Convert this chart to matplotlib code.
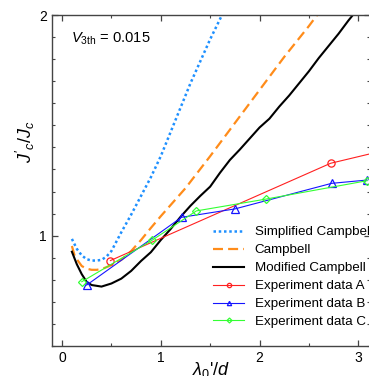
"""Normalised critical current J'c/Jc against lambda0'/d: three model curves
plus three sets of measurements, with the legend set low on the right."""

import matplotlib

matplotlib.use("Agg")
import matplotlib.pyplot as plt  # noqa: E402
from matplotlib.ticker import MultipleLocator, FixedLocator  # noqa: E402

plt.rcParams["font.family"] = ["Liberation Sans", "DejaVu Sans"]
plt.rcParams["mathtext.fontset"] = "custom"
plt.rcParams["mathtext.rm"] = "Liberation Sans"
plt.rcParams["mathtext.it"] = "Liberation Sans:italic"

# --- data ---------------------------------------------------------------
simp_x = [0.10, 0.15, 0.20, 0.25, 0.30, 0.35, 0.40, 0.45, 0.50, 0.60, 0.70,
          0.80, 0.90, 1.00, 1.10, 1.20, 1.30, 1.40, 1.50, 1.62, 1.70]
simp_y = [0.985, 0.94, 0.91, 0.893, 0.887, 0.887, 0.89, 0.905, 0.93, 1.015,
          1.095, 1.18, 1.265, 1.36, 1.47, 1.58, 1.69, 1.79, 1.89, 2.0, 2.08]

camp_x = [0.10, 0.13, 0.20, 0.25, 0.30, 0.35, 0.40, 0.50, 0.60, 0.70, 0.80,
          0.90, 1.00, 1.25, 1.50, 1.75, 2.00, 2.25, 2.50, 2.65]
camp_y = [0.953, 0.905, 0.862, 0.85, 0.845, 0.845, 0.848, 0.866, 0.89, 0.93,
          0.98, 1.035, 1.088, 1.215, 1.36, 1.51, 1.66, 1.81, 1.95, 2.04]

mod_x = [0.10, 0.15, 0.20, 0.25, 0.30, 0.40, 0.50, 0.60, 0.70, 0.80, 0.90,
         1.00, 1.10, 1.20, 1.30, 1.40, 1.50, 1.60, 1.70, 1.80, 1.90, 2.00,
         2.10, 2.20, 2.30, 2.40, 2.50, 2.60, 2.70, 2.80, 2.90, 3.00]
mod_y = [0.927, 0.87, 0.825, 0.79, 0.776, 0.769, 0.783, 0.805, 0.84, 0.885,
         0.925, 0.98, 1.03, 1.085, 1.135, 1.18, 1.222, 1.285, 1.343, 1.39,
         1.44, 1.49, 1.53, 1.585, 1.635, 1.69, 1.745, 1.805, 1.86, 1.915,
         1.975, 2.03]

exp_a_x = [0.49, 2.72, 3.30]
exp_a_y = [0.887, 1.328, 1.39]
exp_b_x = [0.25, 1.21, 1.75, 2.73, 3.09]
exp_b_y = [0.776, 1.083, 1.121, 1.237, 1.252]
exp_c_x = [0.20, 0.915, 1.36, 2.07, 3.09]
exp_c_y = [0.791, 0.98, 1.112, 1.166, 1.249]

_AXIS = "#444444"

fig = plt.figure(figsize=(3.69, 3.76), dpi=100)
ax = fig.add_axes([0.140, 0.080, 0.863, 0.880])

ax.plot(simp_x, simp_y, color="#1e90ff", lw=1.8, linestyle=(0, (1, 1.1)),
        label="Simplified Campbell")
ax.plot(camp_x, camp_y, color="#ff8c1a", lw=1.6, linestyle=(0, (4.5, 2.3)),
        label="Campbell")
ax.plot(mod_x, mod_y, color="black", lw=1.5, label="Modified Campbell")
ax.plot(exp_a_x, exp_a_y, color="#ff2020", lw=0.8, marker="o", ms=5.2,
        mfc="none", mew=0.9, label="Experiment data A")
ax.plot(exp_b_x, exp_b_y, color="#1515ff", lw=0.8, marker="^", ms=5.2,
        mfc="none", mew=0.9, label="Experiment data B")
ax.plot(exp_c_x, exp_c_y, color="#33ff33", lw=0.8, marker="D", ms=4.2,
        mfc="none", mew=0.9, label="Experiment data C")

ax.set_xlim(-0.105, 3.12)
ax.set_ylim(0.5, 2.0)
ax.xaxis.set_major_locator(MultipleLocator(1))
ax.xaxis.set_minor_locator(MultipleLocator(0.5))
ax.yaxis.set_major_locator(FixedLocator([1, 2]))
ax.yaxis.set_minor_locator(MultipleLocator(0.1))
ax.tick_params(which="both", direction="in", top=True, right=True,
               colors=_AXIS, labelcolor="black", labelsize=10)
ax.tick_params(which="major", length=4.5, width=0.9)
ax.tick_params(which="minor", length=2.5, width=0.8)
for spine in ax.spines.values():
    spine.set_color(_AXIS)
    spine.set_linewidth(1.0)

ax.set_ylabel(r"$J'_c/J_c$", fontsize=13)
ax.yaxis.set_label_coords(-0.045, 0.616)
ax.set_xlabel(r"$\lambda_0$'/$d$", fontsize=13, va="top")
ax.xaxis.set_label_coords(0.5, -0.042)

ax.text(0.062, 0.927, r"$V_{\rm 3th}$ = 0.015", transform=ax.transAxes,
        fontsize=10.6, va="center", ha="left")

ax.legend(loc="upper left", bbox_to_anchor=(0.508, 0.362), frameon=False,
          fontsize=9.6, borderpad=0, borderaxespad=0, labelspacing=0.42,
          handlelength=2.3, handletextpad=0.8, markerscale=0.6)

fig.savefig("out.png", dpi=100)
